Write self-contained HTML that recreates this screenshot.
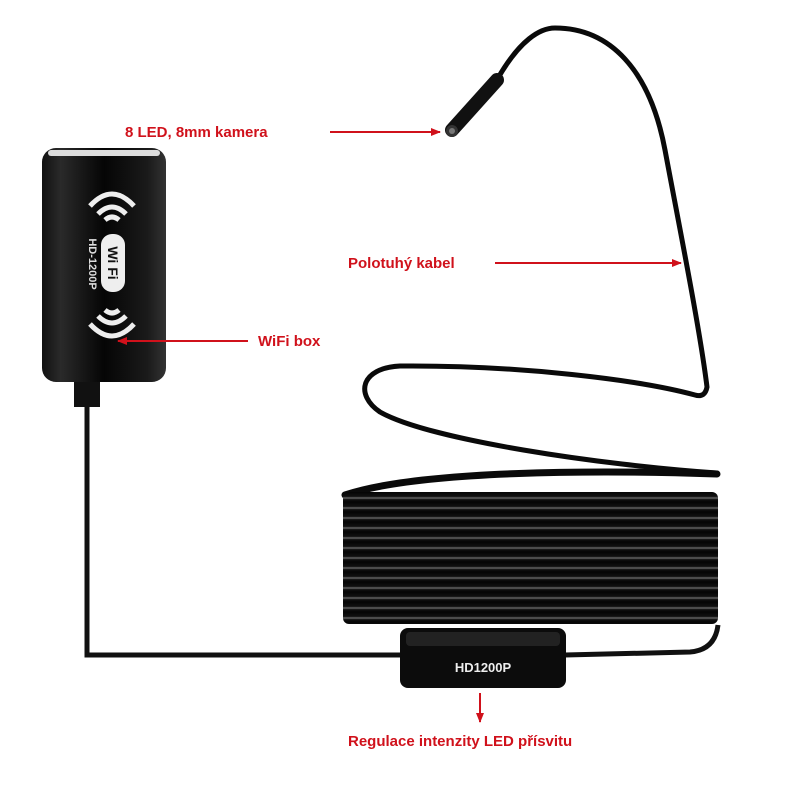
<!DOCTYPE html>
<html><head><meta charset="utf-8"><style>
html,body{margin:0;padding:0;background:#fff;}
svg{display:block}
text{font-family:"Liberation Sans",sans-serif;font-weight:bold}
</style></head><body>
<svg width="800" height="800" viewBox="0 0 800 800" xmlns="http://www.w3.org/2000/svg">
<defs>
<linearGradient id="box" x1="0" x2="1" y1="0" y2="0">
<stop offset="0" stop-color="#111"/><stop offset="0.15" stop-color="#2a2a2a"/><stop offset="0.5" stop-color="#050505"/><stop offset="0.85" stop-color="#1a1a1a"/><stop offset="1" stop-color="#333"/>
</linearGradient>
<linearGradient id="st" x1="0" x2="0" y1="0" y2="1">
<stop offset="0" stop-color="#050505"/><stop offset="0.45" stop-color="#111"/><stop offset="0.6" stop-color="#6a6a6a"/><stop offset="0.75" stop-color="#111"/><stop offset="1" stop-color="#050505"/>
</linearGradient>
<pattern id="coil" width="10" height="10" patternUnits="userSpaceOnUse" y="492">
<rect width="10" height="10" fill="url(#st)"/>
</pattern>
<marker id="ah" viewBox="0 0 10 10" refX="9" refY="5" markerWidth="5" markerHeight="5" orient="auto"><path d="M0,1 L10,5 L0,9 z" fill="#d0111b"/></marker>
</defs>
<path d="M87,400 L87,655 L400,655" fill="none" stroke="#111" stroke-width="5"/>
<path d="M565,655 L690,652 Q715,650 718,625" fill="none" stroke="#111" stroke-width="5"/>
<path d="M498,78 C520,40 540,28 555,28 C610,28 650,70 665,150 C680,230 700,330 707,387 Q705,398 695,395 C640,380 520,365 400,366 C360,368 355,395 380,412 C430,440 600,465 717,473" fill="none" stroke="#0a0a0a" stroke-width="5" stroke-linecap="round"/>
<path d="M717,474 C600,470 420,470 345,495" fill="none" stroke="#0a0a0a" stroke-width="7" stroke-linecap="round"/>
<line x1="452" y1="130" x2="497" y2="80" stroke="#111" stroke-width="14" stroke-linecap="round"/>
<circle cx="452" cy="131" r="6" fill="#333"/><circle cx="452" cy="131" r="3" fill="#777"/>
<rect x="343" y="492" width="375" height="132" rx="6" fill="url(#coil)"/>
<rect x="400" y="628" width="166" height="60" rx="8" fill="#0c0c0c"/>
<rect x="406" y="632" width="154" height="14" rx="4" fill="#222"/>
<text x="483" y="672" font-size="13" fill="#eee" text-anchor="middle">HD1200P</text>
<rect x="74" y="375" width="26" height="32" fill="#111"/>
<rect x="42" y="148" width="124" height="234" rx="14" fill="url(#box)"/>
<rect x="48" y="150" width="112" height="6" rx="3" fill="#ddd"/>
<g fill="none" stroke="#eee" stroke-width="5">
<path d="M98,214 Q112,200 126,214"/><path d="M90,206 Q112,182 134,206"/><path d="M105,220 Q112,214 119,220"/>
<path d="M98,316 Q112,330 126,316"/><path d="M90,324 Q112,348 134,324"/><path d="M105,310 Q112,316 119,310"/>
</g>
<rect x="101" y="234" width="24" height="58" rx="11" fill="#eee"/>
<text transform="translate(108,263) rotate(90)" font-size="14" fill="#111" text-anchor="middle">Wi Fi</text>
<text transform="translate(89,264) rotate(90)" font-size="11" fill="#ddd" text-anchor="middle">HD-1200P</text>
<g fill="#d0111b" font-size="15">
<text x="125" y="137">8 LED, 8mm kamera</text>
<text x="348" y="268">Polotuhý kabel</text>
<text x="258" y="346">WiFi box</text>
<text x="348" y="746">Regulace intenzity LED přísvitu</text>
</g>
<g stroke="#d0111b" stroke-width="2" marker-end="url(#ah)">
<line x1="330" y1="132" x2="440" y2="132"/>
<line x1="495" y1="263" x2="681" y2="263"/>
<line x1="248" y1="341" x2="118" y2="341"/>
<line x1="480" y1="693" x2="480" y2="722"/>
</g>
</svg>
</body></html>
